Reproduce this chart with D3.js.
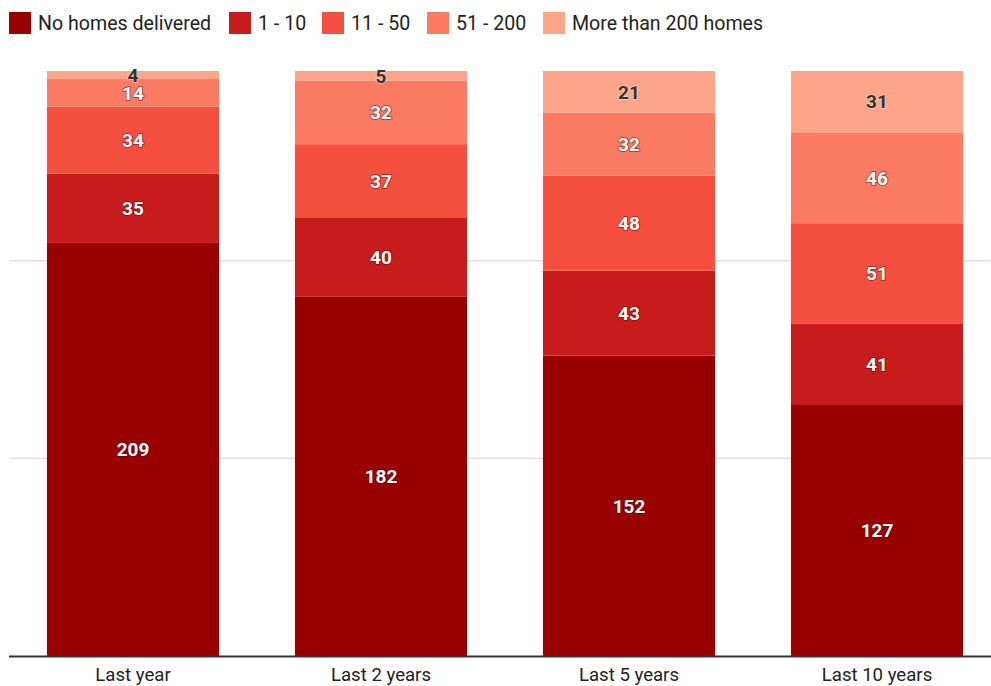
<!DOCTYPE html>
<html><head><meta charset="utf-8">
<script src="https://cdn.jsdelivr.net/npm/d3@7"></script>
<style>body{margin:0;background:#fff}svg{display:block;font-family:Roboto,"Noto Sans",sans-serif}</style>
</head><body><svg id="c" width="991" height="686"></svg>
<script>
const categories = ["Last year","Last 2 years","Last 5 years","Last 10 years"];
const seriesNames = ["No homes delivered","1 - 10","11 - 50","51 - 200","More than 200 homes"];
const noHomes = [209,182,152,127];
const oneTo10 = [35,40,43,41];
const elevenTo50 = [34,37,48,51];
const fiftyOneTo200 = [14,32,32,46];
const over200 = [4,5,21,31];
const gridTicks = [100,200];
const colors = ["#990000","#c81b1b","#f5503f","#fb7a62","#fda589"];
const labelDark = [false,false,false,false,true];

const seriesValues = [noHomes,oneTo10,elevenTo50,fiftyOneTo200,over200];
const rows = categories.map((c,i)=>{const r={cat:c};seriesNames.forEach((s,j)=>r[s]=seriesValues[j][i]);return r;});
const stack = d3.stack().keys(seriesNames)(rows);
const total = d3.max(rows,r=>d3.sum(seriesNames,s=>r[s]));

const svg = d3.select("#c");
const x = d3.scaleBand().domain(categories).range([9,1001]).paddingInner(0.306).paddingOuter(0.153);
const y = d3.scaleLinear().domain([0,total]).range([656,71]);

svg.append("g").selectAll("line").data(gridTicks).join("line")
  .attr("x1",9).attr("x2",991).attr("y1",d=>y(d)).attr("y2",d=>y(d))
  .attr("stroke","#e0e0e0").attr("stroke-width",1.5);

const g = svg.append("g");
stack.forEach((layer,j)=>{
  g.append("g").selectAll("rect").data(layer).join("rect")
    .attr("x",d=>x(d.data.cat)).attr("width",x.bandwidth())
    .attr("y",d=>y(d[1])).attr("height",d=>y(d[0])-y(d[1]))
    .attr("fill",colors[j]);
});

const lab = svg.append("g").attr("font-weight","bold").attr("font-size",19).attr("text-anchor","middle");
stack.forEach((layer,j)=>{
  layer.forEach(d=>{
    const v = d[1]-d[0];
    const dark = labelDark[j];
    const cx = x(d.data.cat)+x.bandwidth()/2, cy=(y(d[0])+y(d[1]))/2;
    lab.append("text").attr("x",cx).attr("y",cy).attr("dy","0.36em")
      .attr("stroke",dark?"#fff":"#5a0000").attr("stroke-width",2).attr("stroke-opacity",dark?0.35:0.45)
      .attr("stroke-linejoin","round").attr("fill","none").text(v);
    lab.append("text").attr("x",cx).attr("y",cy).attr("dy","0.36em")
      .attr("fill",dark?"#333":"#fff").text(v);
  });
});

// x axis
svg.append("line").attr("x1",9).attr("x2",991).attr("y1",656.5).attr("y2",656.5).attr("stroke","#333").attr("stroke-width",2);
svg.append("g").selectAll("text").data(categories).join("text")
  .attr("x",d=>x(d)+x.bandwidth()/2).attr("y",674.5).attr("dy","0.36em")
  .attr("text-anchor","middle").attr("font-size",18.6).attr("fill","#222").text(d=>d);

// legend
const legX = [9,229,322,427,543];
const leg = svg.append("g");
seriesNames.forEach((s,i)=>{
  leg.append("rect").attr("x",legX[i]).attr("y",12).attr("width",22).attr("height",22).attr("fill",colors[i]);
  leg.append("text").attr("x",legX[i]+29).attr("y",23).attr("dy","0.36em").attr("font-size",19.6).attr("fill","#222").text(s);
});
</script></body></html>
